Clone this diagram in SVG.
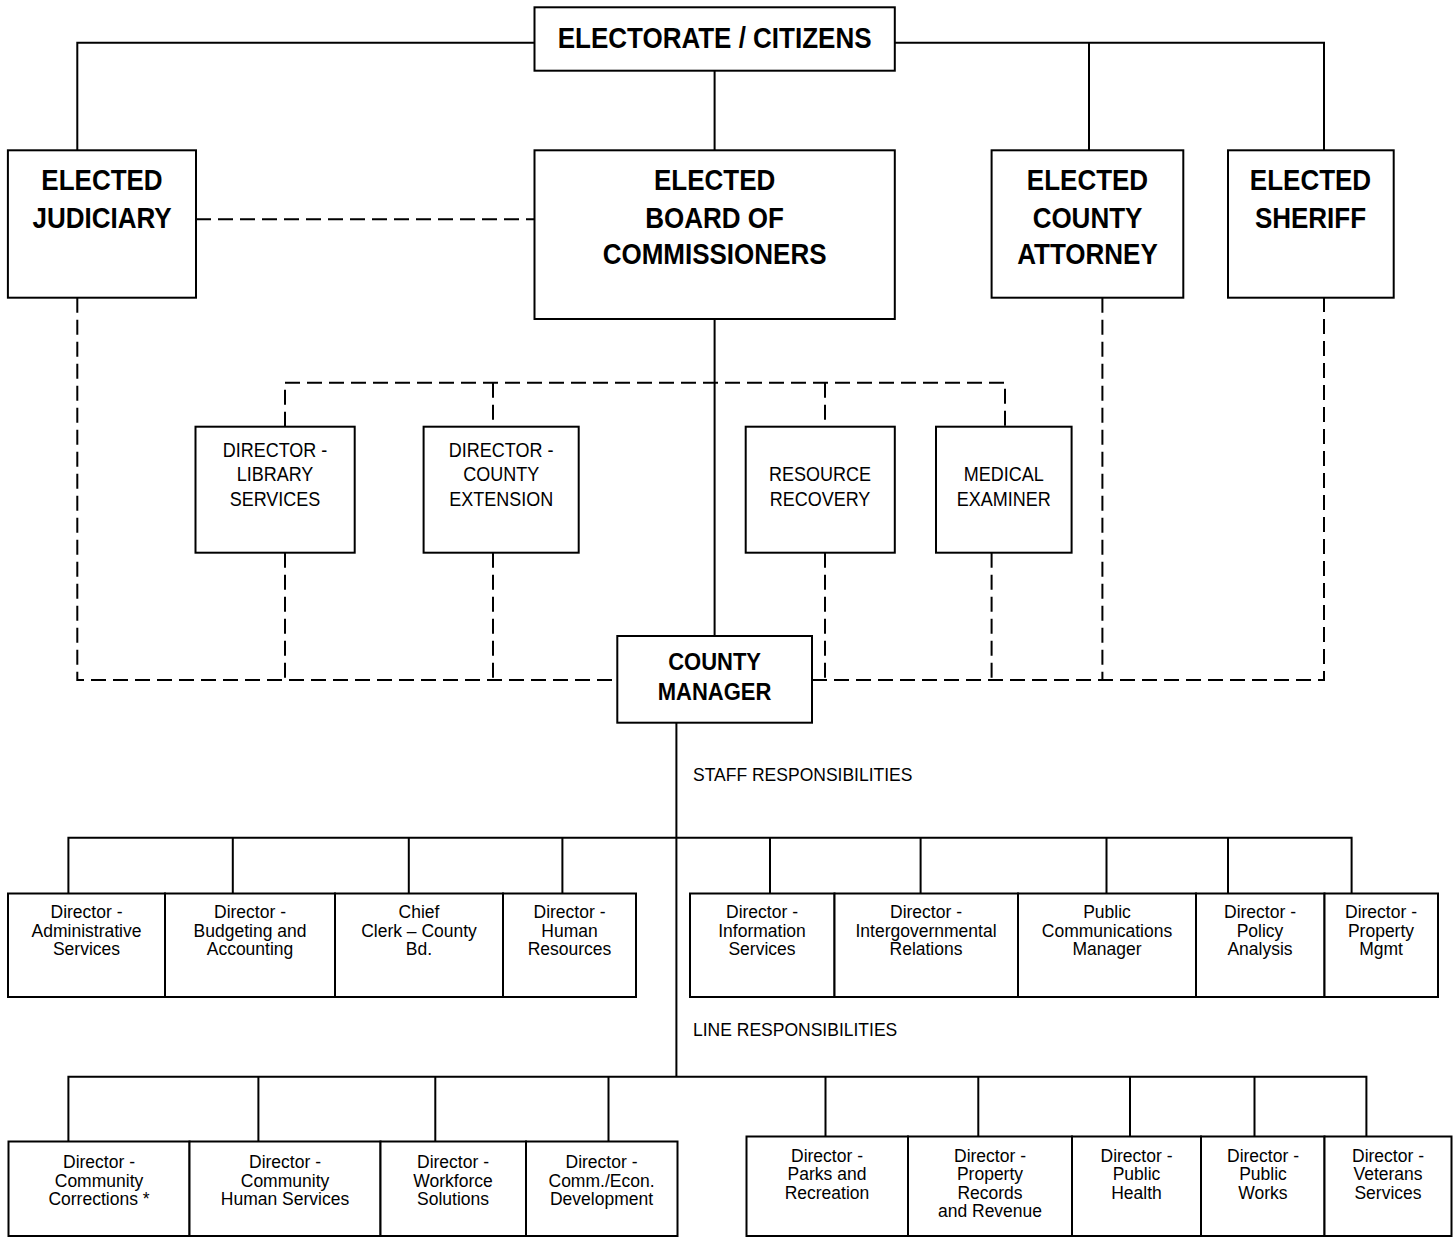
<svg xmlns="http://www.w3.org/2000/svg" width="1453" height="1237" viewBox="0 0 1453 1237">
<style>
.bx{fill:#fff;stroke:#000;stroke-width:2}
.ln{fill:none;stroke:#000;stroke-width:2}
.dl{fill:none;stroke:#000;stroke-width:2;stroke-dasharray:15 7}
.h{font-family:"Liberation Sans",Arial,sans-serif;font-weight:bold;font-size:26px;text-anchor:middle;fill:#000}
.m{font-family:"Liberation Sans",Arial,sans-serif;font-weight:bold;font-size:22px;text-anchor:middle;fill:#000}
.md{font-family:"Liberation Sans",Arial,sans-serif;font-size:18px;text-anchor:middle;fill:#000}
.s{font-family:"Liberation Sans",Arial,sans-serif;font-size:17.5px;text-anchor:middle;fill:#000}
.lb{font-family:"Liberation Sans",Arial,sans-serif;font-size:17.5px;fill:#000}
</style>
<rect width="1453" height="1237" fill="#fff"/>
<g id="connectors">
<path class="ln" d="M77.3 150.3V42.7H534.5M894.8 42.7H1324V150.3M1089 42.7V150.3M714.6 70.7V150.3M714.6 319V636"/>
<path class="dl" d="M196 219.3H534.5"/>
<path class="dl" d="M285 426.7V382.7H1005V426.7M493 382.7V426.7M825 382.7V426.7"/>
<path class="dl" d="M77.3 297.7V680H617.3M285 552.7V680M493 552.7V680"/>
<path class="dl" d="M812 680H1324V297.7M825 552.7V680M991.6 552.7V680M1102.4 297.7V680"/>
<path class="ln" d="M676.4 722.7V1076.7"/>
<path class="ln" d="M68.4 893.5V837.7H1351.6V893.5M232.8 837.7V893.5M408.8 837.7V893.5M562.4 837.7V893.5M770 837.7V893.5M920.6 837.7V893.5M1106.5 837.7V893.5M1228 837.7V893.5"/>
<path class="ln" d="M68.4 1141.5V1076.7H1366.4V1136.5M258.4 1076.7V1141.5M435.3 1076.7V1141.5M608.5 1076.7V1141.5M825.5 1076.7V1136.5M978.3 1076.7V1136.5M1130 1076.7V1136.5M1254.5 1076.7V1136.5"/>
</g>
<g id="electorate"><rect class="bx" x="534.5" y="7.3" width="360.3" height="63.4"/><text class="h" transform="matrix(1 0 0 1.16 714.6 47.5)">ELECTORATE / CITIZENS</text></g>
<g id="judiciary"><rect class="bx" x="7.9" y="150.3" width="188.1" height="147.4"/><text class="h" transform="matrix(1 0 0 1.16 102 189.8)">ELECTED</text><text class="h" transform="matrix(1 0 0 1.16 102 227.5)">JUDICIARY</text></g>
<g id="board"><rect class="bx" x="534.5" y="150.3" width="360.3" height="168.7"/><text class="h" transform="matrix(1 0 0 1.16 714.6 189.8)">ELECTED</text><text class="h" transform="matrix(1 0 0 1.16 714.6 227.5)">BOARD OF</text><text class="h" transform="matrix(1 0 0 1.16 714.6 263.8)">COMMISSIONERS</text></g>
<g id="attorney"><rect class="bx" x="991.6" y="150.3" width="191.7" height="147.4"/><text class="h" transform="matrix(1 0 0 1.16 1087.5 189.8)">ELECTED</text><text class="h" transform="matrix(1 0 0 1.16 1087.5 227.5)">COUNTY</text><text class="h" transform="matrix(1 0 0 1.16 1087.5 263.8)">ATTORNEY</text></g>
<g id="sheriff"><rect class="bx" x="1228" y="150.3" width="165.7" height="147.4"/><text class="h" transform="matrix(1 0 0 1.16 1310.5 189.8)">ELECTED</text><text class="h" transform="matrix(1 0 0 1.16 1310.5 227.5)">SHERIFF</text></g>
<g id="library"><rect class="bx" x="195.5" y="426.7" width="159.2" height="126"/><text class="md" transform="matrix(1 0 0 1.14 275 457.4)">DIRECTOR -</text><text class="md" transform="matrix(1 0 0 1.14 275 480.7)">LIBRARY</text><text class="md" transform="matrix(1 0 0 1.14 275 505.7)">SERVICES</text></g>
<g id="extension"><rect class="bx" x="423.6" y="426.7" width="155.1" height="126"/><text class="md" transform="matrix(1 0 0 1.14 501.2 457.4)">DIRECTOR -</text><text class="md" transform="matrix(1 0 0 1.14 501.2 480.7)">COUNTY</text><text class="md" transform="matrix(1 0 0 1.14 501.2 505.7)">EXTENSION</text></g>
<g id="resource"><rect class="bx" x="745.7" y="426.7" width="149.1" height="126"/><text class="md" transform="matrix(1 0 0 1.14 820 480.7)">RESOURCE</text><text class="md" transform="matrix(1 0 0 1.14 820 505.7)">RECOVERY</text></g>
<g id="medical"><rect class="bx" x="936" y="426.7" width="135.6" height="126"/><text class="md" transform="matrix(1 0 0 1.14 1003.8 480.7)">MEDICAL</text><text class="md" transform="matrix(1 0 0 1.14 1003.8 505.7)">EXAMINER</text></g>
<g id="manager"><rect class="bx" x="617.3" y="636" width="194.7" height="86.7"/><text class="m" transform="matrix(1 0 0 1.06 714.6 670)">COUNTY</text><text class="m" transform="matrix(1 0 0 1.06 714.6 700)">MANAGER</text></g>
<g id="labels"><text class="lb" x="693" y="781">STAFF RESPONSIBILITIES</text><text class="lb" x="693" y="1036">LINE RESPONSIBILITIES</text></g>
<g id="s1"><rect class="bx" x="8" y="893.5" width="157" height="103.5"/><text class="s" x="86.5" y="918">Director -</text><text class="s" x="86.5" y="936.5">Administrative</text><text class="s" x="86.5" y="955">Services</text></g>
<g id="s2"><rect class="bx" x="165" y="893.5" width="170" height="103.5"/><text class="s" x="250" y="918">Director -</text><text class="s" x="250" y="936.5">Budgeting and</text><text class="s" x="250" y="955">Accounting</text></g>
<g id="s3"><rect class="bx" x="335" y="893.5" width="168" height="103.5"/><text class="s" x="419" y="918">Chief</text><text class="s" x="419" y="936.5">Clerk – County</text><text class="s" x="419" y="955">Bd.</text></g>
<g id="s4"><rect class="bx" x="503" y="893.5" width="133" height="103.5"/><text class="s" x="569.5" y="918">Director -</text><text class="s" x="569.5" y="936.5">Human</text><text class="s" x="569.5" y="955">Resources</text></g>
<g id="s5"><rect class="bx" x="690" y="893.5" width="144.5" height="103.5"/><text class="s" x="762" y="918">Director -</text><text class="s" x="762" y="936.5">Information</text><text class="s" x="762" y="955">Services</text></g>
<g id="s6"><rect class="bx" x="834.5" y="893.5" width="183.5" height="103.5"/><text class="s" x="926" y="918">Director -</text><text class="s" x="926" y="936.5">Intergovernmental</text><text class="s" x="926" y="955">Relations</text></g>
<g id="s7"><rect class="bx" x="1018" y="893.5" width="178" height="103.5"/><text class="s" x="1107" y="918">Public</text><text class="s" x="1107" y="936.5">Communications</text><text class="s" x="1107" y="955">Manager</text></g>
<g id="s8"><rect class="bx" x="1196" y="893.5" width="128.5" height="103.5"/><text class="s" x="1260" y="918">Director -</text><text class="s" x="1260" y="936.5">Policy</text><text class="s" x="1260" y="955">Analysis</text></g>
<g id="s9"><rect class="bx" x="1324.5" y="893.5" width="113.5" height="103.5"/><text class="s" x="1381" y="918">Director -</text><text class="s" x="1381" y="936.5">Property</text><text class="s" x="1381" y="955">Mgmt</text></g>
<g id="l1"><rect class="bx" x="8.5" y="1141.5" width="181" height="94.5"/><text class="s" x="99" y="1168">Director -</text><text class="s" x="99" y="1186.5">Community</text><text class="s" x="99" y="1205">Corrections *</text></g>
<g id="l2"><rect class="bx" x="189.5" y="1141.5" width="191" height="94.5"/><text class="s" x="285" y="1168">Director -</text><text class="s" x="285" y="1186.5">Community</text><text class="s" x="285" y="1205">Human Services</text></g>
<g id="l3"><rect class="bx" x="380.5" y="1141.5" width="145.5" height="94.5"/><text class="s" x="453" y="1168">Director -</text><text class="s" x="453" y="1186.5">Workforce</text><text class="s" x="453" y="1205">Solutions</text></g>
<g id="l4"><rect class="bx" x="526" y="1141.5" width="151.5" height="94.5"/><text class="s" x="601.5" y="1168">Director -</text><text class="s" x="601.5" y="1186.5">Comm./Econ.</text><text class="s" x="601.5" y="1205">Development</text></g>
<g id="l5"><rect class="bx" x="746.5" y="1136.5" width="161.5" height="99.5"/><text class="s" x="827" y="1161.5">Director -</text><text class="s" x="827" y="1180">Parks and</text><text class="s" x="827" y="1198.5">Recreation</text></g>
<g id="l6"><rect class="bx" x="908" y="1136.5" width="164" height="99.5"/><text class="s" x="990" y="1161.5">Director -</text><text class="s" x="990" y="1180">Property</text><text class="s" x="990" y="1198.5">Records</text><text class="s" x="990" y="1217">and Revenue</text></g>
<g id="l7"><rect class="bx" x="1072" y="1136.5" width="129" height="99.5"/><text class="s" x="1136.5" y="1161.5">Director -</text><text class="s" x="1136.5" y="1180">Public</text><text class="s" x="1136.5" y="1198.5">Health</text></g>
<g id="l8"><rect class="bx" x="1201" y="1136.5" width="123.5" height="99.5"/><text class="s" x="1263" y="1161.5">Director -</text><text class="s" x="1263" y="1180">Public</text><text class="s" x="1263" y="1198.5">Works</text></g>
<g id="l9"><rect class="bx" x="1324.5" y="1136.5" width="127" height="99.5"/><text class="s" x="1388" y="1161.5">Director -</text><text class="s" x="1388" y="1180">Veterans</text><text class="s" x="1388" y="1198.5">Services</text></g>
</svg>
